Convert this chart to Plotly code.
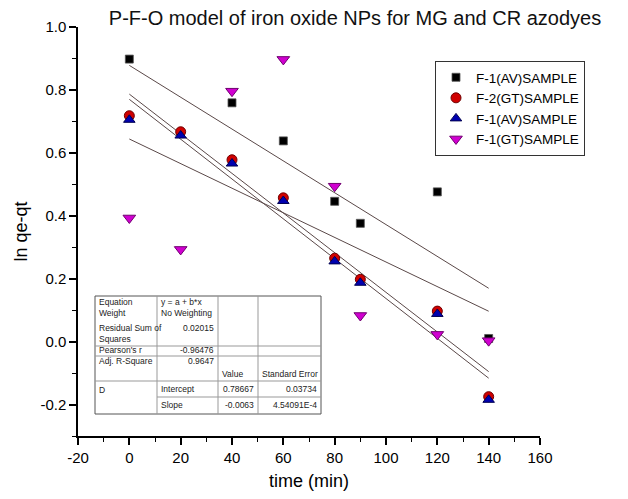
import plotly.graph_objects as go

time_black = [0, 40, 60, 80, 90, 120, 140]
lnq_black = [0.898, 0.759, 0.638, 0.446, 0.376, 0.476, 0.01]

time_all = [0, 20, 40, 60, 80, 90, 120, 140]
lnq_red = [0.718, 0.667, 0.578, 0.457, 0.265, 0.198, 0.097, -0.175]
lnq_blue = [0.705, 0.655, 0.566, 0.447, 0.255, 0.187, 0.088, -0.185]
lnq_mag = [0.393, 0.293, 0.796, 0.897, 0.494, 0.083, 0.023, 0.003]

series_names = ["F-1(AV)SAMPLE", "F-2(GT)SAMPLE", "F-1(AV)SAMPLE", "F-1(GT)SAMPLE"]

# linear fits (intercept, slope) as drawn
fit_intercepts = [0.878, 0.78667, 0.770, 0.644]
fit_slopes = [-0.00506, -0.0063, -0.00633, -0.00391]
fit_x = [0, 140]

x_tickvals = [-20, 0, 20, 40, 60, 80, 100, 120, 140, 160]
x_ticktext = ["-20", "0", "20", "40", "60", "80", "100", "120", "140", "160"]
y_tickvals = [-0.2, 0.0, 0.2, 0.4, 0.6, 0.8, 1.0]
y_ticktext = ["-0.2", "0.0", "0.2", "0.4", "0.6", "0.8", "1.0"]

FONT = "Arial, Liberation Sans, sans-serif"

fig = go.Figure()

for a, b in zip(fit_intercepts, fit_slopes):
    fig.add_trace(go.Scatter(x=fit_x, y=[a + b * t for t in fit_x], mode="lines",
                             line=dict(color="#5a4848", width=1), showlegend=False,
                             hoverinfo="skip"))

fig.add_trace(go.Scatter(x=time_black, y=lnq_black, mode="markers", name=series_names[0],
                         marker=dict(symbol="square", size=8, color="black",
                                     line=dict(color="#555", width=0.8))))
fig.add_trace(go.Scatter(x=time_all, y=lnq_red, mode="markers", name=series_names[1],
                         marker=dict(symbol="circle", size=10, color="#d00000",
                                     line=dict(color="#700000", width=1))))
fig.add_trace(go.Scatter(x=time_all, y=lnq_blue, mode="markers", name=series_names[2],
                         marker=dict(symbol="triangle-up", size=10, color="#0000b0",
                                     line=dict(color="#000050", width=1))))
fig.add_trace(go.Scatter(x=time_all, y=lnq_mag, mode="markers", name=series_names[3],
                         marker=dict(symbol="triangle-down", size=11, color="#d000d0",
                                     line=dict(color="#700070", width=1))))

# plot area in pixels
L, R, T, B = 78, 540, 27, 436
def px(x):
    return (x - L) / (R - L)
def py(y):
    return (B - y) / (B - T)

shapes = []
annotations = []

# table
tx0, tx1, tx2, tx3, tx4 = 95, 157, 218, 258, 321
ty0, ty1 = 296, 414
shapes.append(dict(type="rect", xref="paper", yref="paper", x0=px(tx0), x1=px(tx4),
                   y0=py(ty1), y1=py(ty0), line=dict(color="#555", width=1),
                   fillcolor="white", layer="above"))
for xv in [tx1, tx2, tx3]:
    shapes.append(dict(type="line", xref="paper", yref="paper", x0=px(xv), x1=px(xv),
                       y0=py(ty0), y1=py(ty1), line=dict(color="#999", width=1), layer="above"))
for yv, xa in [(346, tx0), (356, tx0), (381, tx0), (397, tx1)]:
    shapes.append(dict(type="line", xref="paper", yref="paper", x0=px(xa), x1=px(tx4),
                       y0=py(yv), y1=py(yv), line=dict(color="#999", width=1), layer="above"))

def txt(x, y, s, anchor="left"):
    annotations.append(dict(x=px(x), y=py(y), xref="paper", yref="paper", text=s,
                            showarrow=False, xanchor=anchor, yanchor="middle",
                            font=dict(family=FONT, size=8.5, color="#222")))

txt(97, 302, "Equation")
txt(97, 313, "Weight")
txt(97, 328, "Residual Sum of")
txt(97, 339, "Squares")
txt(97, 350, "Pearson's r")
txt(97, 361, "Adj. R-Square")
txt(97, 390, "D")
txt(159, 302, "y = a + b*x")
txt(159, 313, "No Weighting")
txt(216, 328, "0.02015", "right")
txt(216, 350, "-0.96476", "right")
txt(216, 361, "0.9647", "right")
txt(220, 374, "Value")
txt(260, 374, "Standard Error")
txt(159, 389, "Intercept")
txt(256, 389, "0.78667", "right")
txt(319, 389, "0.03734", "right")
txt(159, 405, "Slope")
txt(256, 405, "-0.0063", "right")
txt(319, 405, "4.54091E-4", "right")

fig.update_layout(
    width=628, height=499,
    margin=dict(l=L, r=628 - R, t=T, b=499 - B),
    paper_bgcolor="white", plot_bgcolor="white",
    font=dict(family=FONT, color="black"),
    title=dict(text="P-F-O model of iron oxide NPs for MG and CR azodyes",
               x=355 / 628, xanchor="center", y=1 - 18 / 499, yanchor="middle",
               font=dict(size=20, family=FONT, color="#111")),
    showlegend=True,
    legend=dict(x=px(435), y=py(61), xanchor="left", yanchor="top",
                bordercolor="#333", borderwidth=1, bgcolor="white",
                font=dict(size=13.5, family=FONT), tracegroupgap=0),
    xaxis=dict(range=[-20, 160], tickvals=x_tickvals, ticktext=x_ticktext,
               showgrid=False, zeroline=False,
               showline=True, linecolor="black", linewidth=1.5,
               ticks="outside", ticklen=7, tickwidth=1.5, tickcolor="black",
               tickfont=dict(size=15),
               minor=dict(dtick=10, tick0=0, ticks="outside", ticklen=4, tickwidth=1.2, tickcolor="black"),
               title=dict(text="time (min)", font=dict(size=18), standoff=10)),
    yaxis=dict(range=[-0.3, 1.0], tickvals=y_tickvals, ticktext=y_ticktext, showgrid=False,
               zeroline=False, showline=True, linecolor="black", linewidth=1.5,
               ticks="outside", ticklen=7, tickwidth=1.5, tickcolor="black",
               tickfont=dict(size=15),
               minor=dict(dtick=0.1, tick0=0, ticks="outside", ticklen=4, tickwidth=1.2, tickcolor="black"),
               title=dict(text="ln qe-qt", font=dict(size=18), standoff=8)),
    shapes=shapes, annotations=annotations,
)

fig.write_html("out.html")
